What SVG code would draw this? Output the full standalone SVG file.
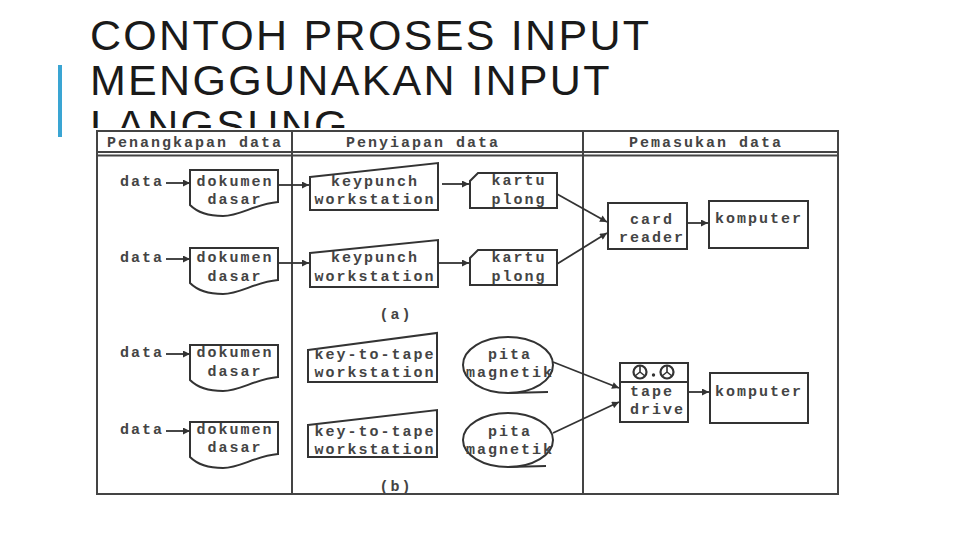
<svg xmlns="http://www.w3.org/2000/svg" width="960" height="540" viewBox="0 0 960 540">
<defs>
<style>
.title{font-family:"Liberation Sans",Arial,sans-serif;font-size:43px;fill:#1a1a1a;letter-spacing:2.3px}
.t{font-family:"Liberation Mono","DejaVu Sans Mono",monospace;font-size:15px;font-weight:bold;fill:#444;letter-spacing:2px}
.c{text-anchor:middle}
.sh{fill:#fff;stroke:#333;stroke-width:2}
.frame{stroke:#444;stroke-width:2;fill:none}
.con{stroke:#333;stroke-width:1.8;fill:none}
</style>
<marker id="ah" viewBox="0 0 10 10" refX="10" refY="5" markerWidth="8" markerHeight="7" markerUnits="userSpaceOnUse" orient="auto">
<path d="M0,0 L10,5 L0,10 Z" fill="#333"/>
</marker>
<clipPath id="tclip"><rect x="0" y="0" width="960" height="128"/></clipPath>
</defs>
<rect width="960" height="540" fill="#fff"/>
<rect x="58" y="65" width="4" height="72" fill="#3aa5d3"/>
<text class="title" x="90" y="50">CONTOH PROSES INPUT</text>
<text class="title" x="90" y="95">MENGGUNAKAN INPUT</text>
<text class="title" x="90" y="140" clip-path="url(#tclip)">LANGSUNG</text>
<g id="scan">
<rect x="93" y="128" width="747" height="372" fill="#fff"/>
<rect class="frame" x="97" y="131" width="741" height="363"/>
<line class="frame" x1="97" y1="152" x2="838" y2="152"/>
<line class="frame" x1="97" y1="155.5" x2="838" y2="155.5" stroke-width="1.2"/>
<line class="frame" x1="292" y1="131" x2="292" y2="494"/>
<line class="frame" x1="583" y1="131" x2="583" y2="494"/>
<text class="t c" x="195" y="147">Penangkapan data</text>
<text class="t c" x="423" y="147">Penyiapan data</text>
<text class="t c" x="706" y="147">Pemasukan data</text>
<text class="t c" x="396" y="319">(a)</text>
<text class="t c" x="396" y="491">(b)</text>
</g>
<g id="data1"><text class="t" x="120" y="186">data</text></g>
<g id="data2"><text class="t" x="120" y="262">data</text></g>
<g id="data3"><text class="t" x="120" y="357">data</text></g>
<g id="data4"><text class="t" x="120" y="434">data</text></g>
<g id="dok1"><path class="sh" d="M190,170 H278 V202 C255,204 240,216 223,216 C205,216 195,210 190,205 Z"/><text class="t c" x="235" y="186">dokumen</text><text class="t c" x="235" y="204">dasar</text></g>
<g id="dok2"><path class="sh" d="M190,248 H278 V280 C255,282 240,294 223,294 C205,294 195,288 190,283 Z"/><text class="t c" x="235" y="262">dokumen</text><text class="t c" x="235" y="281">dasar</text></g>
<g id="dok3"><path class="sh" d="M190,345 H278 V377 C255,379 240,391 223,391 C205,391 195,385 190,380 Z"/><text class="t c" x="235" y="357">dokumen</text><text class="t c" x="235" y="376">dasar</text></g>
<g id="dok4"><path class="sh" d="M190,422 H278 V454 C255,456 240,468 223,468 C205,468 195,462 190,457 Z"/><text class="t c" x="235" y="434">dokumen</text><text class="t c" x="235" y="452">dasar</text></g>
<g id="kp1"><polygon class="sh" points="310,177 438,163 438,210 310,210"/><text class="t c" x="375" y="186">keypunch</text><text class="t c" x="375" y="204">workstation</text></g>
<g id="kp2"><polygon class="sh" points="310,253 438,240 438,287 310,287"/><text class="t c" x="375" y="262">keypunch</text><text class="t c" x="375" y="281">workstation</text></g>
<g id="ktt1"><polygon class="sh" points="308,350 437,333 437,382 308,382"/><text class="t c" x="375" y="359">key-to-tape</text><text class="t c" x="375" y="377">workstation</text></g>
<g id="ktt2"><polygon class="sh" points="308,425 437,410 437,457 308,457"/><text class="t c" x="375" y="436">key-to-tape</text><text class="t c" x="375" y="454">workstation</text></g>
<g id="kartu1"><path class="sh" d="M478,173 H557 V208 H470 V181 Z"/><text class="t c" x="519" y="185">kartu</text><text class="t c" x="519" y="204">plong</text></g>
<g id="kartu2"><path class="sh" d="M478,250 H557 V285 H470 V258 Z"/><text class="t c" x="519" y="262">kartu</text><text class="t c" x="519" y="281">plong</text></g>
<g id="pita1"><ellipse class="sh" cx="508" cy="365" rx="45" ry="28"/><line class="con" x1="508" y1="393" x2="548" y2="392"/><text class="t c" x="510" y="359">pita</text><text class="t c" x="510" y="377">magnetik</text></g>
<g id="pita2"><ellipse class="sh" cx="508" cy="440" rx="45" ry="27"/><line class="con" x1="508" y1="467" x2="546" y2="466"/><text class="t c" x="510" y="436">pita</text><text class="t c" x="510" y="454">magnetik</text></g>
<g id="cardreader"><rect class="sh" x="608" y="203" width="79" height="46"/><text class="t c" x="652" y="224">card</text><text class="t c" x="652" y="242">reader</text></g>
<g id="komputer1"><rect class="sh" x="709" y="201" width="99" height="47" stroke-width="2.5"/><text class="t c" x="759" y="223">komputer</text></g>
<g id="tapedrive"><rect class="sh" x="620" y="363" width="68" height="59"/><line class="con" x1="620" y1="382" x2="688" y2="382" stroke-width="2"/><circle cx="640" cy="372" r="6.5" fill="none" stroke="#333" stroke-width="2.2"/><path d="M640,372 V366 M640,372 L635,376 M640,372 L645,376" stroke="#333" stroke-width="1.6"/><circle cx="667" cy="372" r="6.5" fill="none" stroke="#333" stroke-width="2.2"/><path d="M667,372 V366 M667,372 L662,376 M667,372 L672,376" stroke="#333" stroke-width="1.6"/><circle cx="653.5" cy="375" r="1.7" fill="#333"/><text class="t" x="630" y="396">tape</text><text class="t" x="630" y="414">drive</text></g>
<g id="komputer2"><rect class="sh" x="710" y="373" width="98" height="50" stroke-width="2.5"/><text class="t c" x="759" y="396">komputer</text></g>
<g id="connectors">
<line class="con" x1="166" y1="183" x2="190" y2="183" marker-end="url(#ah)"/>
<line class="con" x1="166" y1="259" x2="190" y2="259" marker-end="url(#ah)"/>
<line class="con" x1="166" y1="354" x2="190" y2="354" marker-end="url(#ah)"/>
<line class="con" x1="166" y1="431" x2="190" y2="431" marker-end="url(#ah)"/>
<line class="con" x1="278" y1="185" x2="309" y2="185" marker-end="url(#ah)"/>
<line class="con" x1="278" y1="263" x2="309" y2="263" marker-end="url(#ah)"/>
<line class="con" x1="442" y1="184" x2="469" y2="184" marker-end="url(#ah)"/>
<line class="con" x1="438" y1="263" x2="469" y2="263" marker-end="url(#ah)"/>
<line class="con" x1="557" y1="194" x2="607" y2="222" marker-end="url(#ah)"/>
<line class="con" x1="557" y1="264" x2="607" y2="233" marker-end="url(#ah)"/>
<line class="con" x1="687" y1="223" x2="708" y2="223" marker-end="url(#ah)"/>
<line class="con" x1="553" y1="362" x2="619" y2="388" marker-end="url(#ah)"/>
<line class="con" x1="553" y1="433" x2="619" y2="402" marker-end="url(#ah)"/>
<line class="con" x1="688" y1="392" x2="709" y2="392" marker-end="url(#ah)"/>
</g>
</svg>
